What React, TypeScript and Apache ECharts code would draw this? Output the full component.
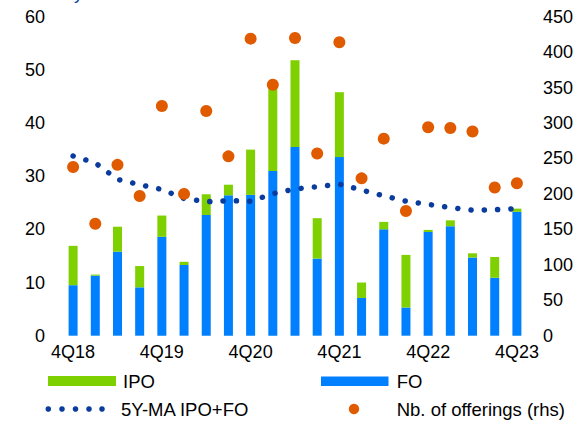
import React, { useEffect, useRef } from "react";
import * as echarts from "echarts";

const categories = [
  "4Q18", "1Q19", "2Q19", "3Q19", "4Q19", "1Q20", "2Q20", "3Q20", "4Q20",
  "1Q21", "2Q21", "3Q21", "4Q21", "1Q22", "2Q22", "3Q22", "4Q22",
  "1Q23", "2Q23", "3Q23", "4Q23",
];
const foValues = [9.5, 11.3, 15.8, 9.1, 18.6, 13.3, 22.7, 26.4, 26.5, 31.0, 35.5, 14.5, 33.6, 7.1, 20.0, 5.3, 19.5, 20.6, 14.7, 10.9, 23.3];
const ipoValues = [7.4, 0.2, 4.7, 4.0, 4.0, 0.6, 3.9, 2.0, 8.5, 16.0, 16.3, 7.6, 12.2, 2.9, 1.4, 9.9, 0.4, 1.1, 0.8, 3.9, 0.6];
const maValues = [33.8, 32.5, 29.4, 28.4, 27.5, 25.8, 25.2, 25.4, 25.3, 26.7, 27.6, 28.0, 28.5, 27.4, 26.3, 25.3, 24.7, 24.1, 23.6, 23.7, 23.9];
const offerings = [238, 158, 241, 197, 324, 200, 317, 253, 419, 354, 420, 257, 414, 222, 278, 176, 294, 293, 288, 209, 215];

const GREEN = "#7ED000";
const BLUE = "#0080FF";
const NAVY = "#0A3C9E";
const ORANGE = "#E05A00";
const FONT = "Liberation Sans, Arial, sans-serif";

export default function App() {
  const ref = useRef<HTMLDivElement>(null);
  useEffect(() => {
    document.body.style.margin = "0";
    const chart = echarts.init(ref.current!, null, { renderer: "svg" });
    const txt = { fontFamily: FONT, fontSize: 18, color: "#000" };
    const lf = `18.5px ${FONT}`;
    chart.setOption({
      animation: false,
      textStyle: { fontFamily: FONT },
      grid: { left: 62, right: 54, top: 16.7, bottom: 86.3, containLabel: false },
      xAxis: {
        type: "category",
        data: categories,
        axisLine: { show: false },
        axisTick: { show: false },
        axisLabel: { ...txt, interval: 3, margin: 7 },
      },
      yAxis: [
        {
          type: "value", min: 0, max: 60, interval: 10,
          splitLine: { show: false }, axisLine: { show: false }, axisTick: { show: false },
          axisLabel: { ...txt, margin: 17 },
        },
        {
          type: "value", min: 0, max: 450, interval: 50,
          splitLine: { show: false }, axisLine: { show: false }, axisTick: { show: false },
          axisLabel: { ...txt, margin: 15 },
        },
      ],
      series: [
        { name: "FO", type: "bar", stack: "t", data: foValues, barWidth: 9, itemStyle: { color: BLUE }, z: 2 },
        { name: "IPO", type: "bar", stack: "t", data: ipoValues, barWidth: 9, itemStyle: { color: GREEN }, z: 2 },
        {
          name: "5Y-MA IPO+FO", type: "line", data: maValues, symbol: "none", smooth: false, z: 3,
          lineStyle: { color: NAVY, width: 5.5, type: [0.1, 13.2], cap: "round" },
        },
        {
          name: "Nb. of offerings (rhs)", type: "scatter", yAxisIndex: 1, data: offerings,
          symbol: "circle", symbolSize: 12, itemStyle: { color: ORANGE, opacity: 1 }, z: 4,
        },
      ],
      graphic: [
        { type: "text", x: 74, y: -7.2, style: { text: "y", fill: NAVY, font: `18px ${FONT}`, verticalAlign: "middle", align: "left" } },
        { type: "rect", shape: { x: 48, y: 376, width: 68, height: 10 }, style: { fill: GREEN } },
        { type: "text", x: 123, y: 381, style: { text: "IPO", fill: "#000", font: lf, verticalAlign: "middle" } },
        { type: "rect", shape: { x: 321, y: 376.5, width: 67.5, height: 9.5 }, style: { fill: BLUE } },
        { type: "text", x: 396.7, y: 381, style: { text: "FO", fill: "#000", font: lf, verticalAlign: "middle" } },
        ...[48.3, 62.0, 75.5, 89.0, 102.0].map((cx) => ({
          type: "circle", shape: { cx, cy: 409, r: 2.8 }, style: { fill: NAVY },
        })),
        { type: "text", x: 121, y: 409, style: { text: "5Y-MA IPO+FO", fill: "#000", font: lf, verticalAlign: "middle" } },
        { type: "circle", shape: { cx: 354, cy: 409, r: 5.2 }, style: { fill: ORANGE } },
        { type: "text", x: 396.7, y: 409, style: { text: "Nb. of offerings (rhs)", fill: "#000", font: lf, verticalAlign: "middle" } },
      ],
    });
    return () => chart.dispose();
  }, []);
  return <div ref={ref} style={{ width: 582, height: 422 }} />;
}
